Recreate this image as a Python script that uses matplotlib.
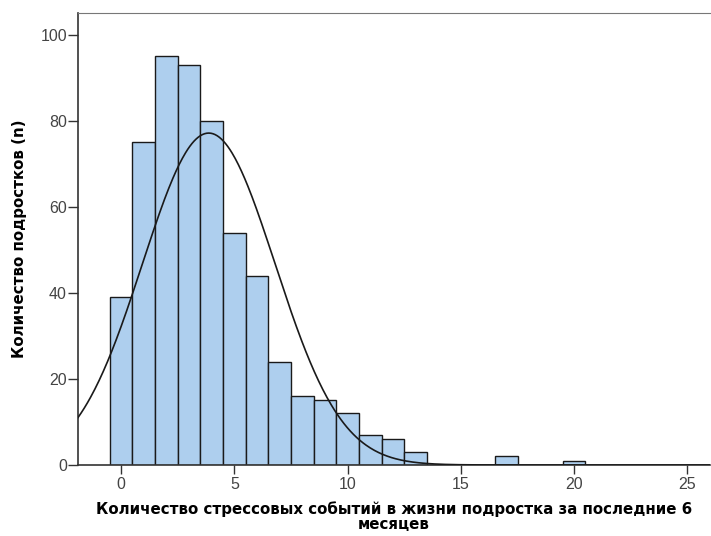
import numpy as np
import matplotlib
matplotlib.use("Agg")
import matplotlib.pyplot as plt

plt.rcParams['font.family'] = ['Liberation Sans', 'DejaVu Sans']

values = [0, 1, 2, 3, 4, 5, 6, 7, 8, 9, 10, 11, 12, 13, 14, 15, 16, 17, 18, 19, 20]
counts = [39, 75, 95, 93, 80, 54, 44, 24, 16, 15, 12, 7, 6, 3, 0, 0, 0, 2, 0, 0, 1]
xticks = [0, 5, 10, 15, 20, 25]
yticks = [0, 20, 40, 60, 80, 100]
xlabel = "Количество стрессовых событий в жизни подростка за последние 6\nмесяцев"
ylabel = "Количество подростков (n)"

v = np.array(values, float)
c = np.array(counts, float)
N = c.sum()
mu = (v * c).sum() / N
sd = np.sqrt(((v - mu) ** 2 * c).sum() / (N - 1))

fig = plt.figure(figsize=(7.11, 5.36), dpi=100)
ax = fig.add_axes([0.1097, 0.1325, 0.889, 0.8432])

nz = c > 0
ax.bar(v[nz], c[nz], width=1.0, color='#aecfee', edgecolor='#1a1a1a', linewidth=1.0, zorder=2)

xs = np.linspace(-1.9, 26, 600)
ys = N * 1.0 / (sd * np.sqrt(2 * np.pi)) * np.exp(-0.5 * ((xs - mu) / sd) ** 2)
ax.plot(xs, ys, color='#1a1a1a', linewidth=1.2, zorder=3)

ax.set_xlim(-1.9, 26)
ax.set_ylim(0, 105.1)
ax.set_xticks(xticks)
ax.set_yticks(yticks)
ax.tick_params(axis='y', direction='out', length=7, width=1, colors='#333333',
               labelsize=11.5, labelcolor='#444444', pad=1)
ax.tick_params(axis='x', direction='out', length=6.5, width=1, colors='#333333',
               labelsize=11.5, labelcolor='#444444', pad=2)
for s in ['left', 'bottom']:
    ax.spines[s].set_color('#333333')
    ax.spines[s].set_linewidth(1.2)
ax.spines['top'].set_color('#777777')
ax.spines['right'].set_visible(False)

ax.set_xlabel(xlabel, fontsize=10.8, fontweight='bold', family='DejaVu Sans',
              labelpad=7, linespacing=0.95)
ax.set_ylabel(ylabel, fontsize=10.8, fontweight='bold', family='DejaVu Sans', labelpad=9.5)

fig.savefig('out.png', dpi=100)
